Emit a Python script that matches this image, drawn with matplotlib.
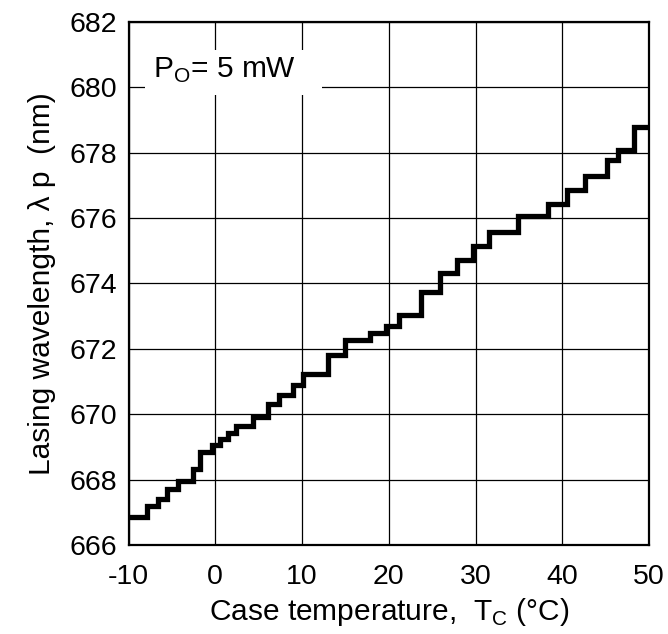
import matplotlib
matplotlib.use("Agg")
import matplotlib.pyplot as plt
from matplotlib.patches import Rectangle

plt.rcParams['font.family'] = ['Liberation Sans', 'DejaVu Sans']
plt.rcParams['axes.unicode_minus'] = False

# case temperature (deg C) where each mode hop starts, and the wavelength held after it
t_step = [-10.0, -7.9, -6.6, -5.6, -4.3, -2.6, -1.8, -0.4, 0.6, 1.5, 2.4, 4.4,
          6.1, 7.3, 9.0, 10.1, 13.0, 14.9, 17.8, 19.7, 21.2, 23.7, 25.9, 27.9,
          29.7, 31.6, 34.9, 38.3, 40.5, 42.6, 45.1, 46.4, 48.3, 50.0]
lam_step = [666.86, 667.19, 667.42, 667.72, 667.97, 668.32, 668.84, 669.05,
            669.25, 669.42, 669.65, 669.93, 670.30, 670.60, 670.88, 671.23,
            671.80, 672.28, 672.48, 672.70, 673.05, 673.75, 674.32, 674.72,
            675.16, 675.58, 676.06, 676.43, 676.87, 677.29, 677.78, 678.08,
            678.79, 678.79]

x_ticks = [-10, 0, 10, 20, 30, 40, 50]
y_ticks = [666, 668, 670, 672, 674, 676, 678, 680, 682]

fig = plt.figure(figsize=(6.68, 6.34), dpi=100)
ax = fig.add_axes([0.1924, 0.1404, 0.7792, 0.8249])

ax.step(t_step, lam_step, where='post', color='black', linewidth=3.8,
        solid_joinstyle='miter', zorder=3)

ax.set_xlim(-10, 50)
ax.set_ylim(666, 682)
ax.set_xticks(x_ticks)
ax.set_yticks(y_ticks)
ax.grid(True, color='black', linewidth=0.9)
ax.tick_params(length=0, labelsize=20.5)
ax.tick_params(axis='x', pad=14)
ax.tick_params(axis='y', pad=8)
for s in ax.spines.values():
    s.set_linewidth(1.6)

ax.set_xlabel('Case temperature,  T$_\\mathregular{C}$ (°C)', fontsize=21.5, labelpad=4)
ax.set_ylabel('Lasing wavelength, λ p  (nm)', fontsize=21.5, labelpad=10)

# white patch so the grid stops around the power label
ax.add_patch(Rectangle((-8.1, 679.76), 20.4, 1.38, facecolor='white',
                       edgecolor='none', zorder=2.5))
ax.text(-7.2, 680.28, 'P$_\\mathregular{O}$= 5 mW', fontsize=21.5, va='baseline',
        ha='left', zorder=4)

fig.savefig('out.png', dpi=100)
